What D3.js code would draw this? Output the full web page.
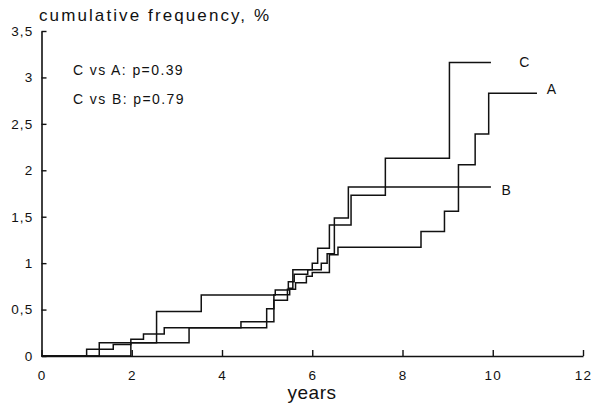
<!DOCTYPE html>
<html>
<head>
<style>
  body {
    margin: 0;
    background-color: #fff;
  }

  text {
    font-family: "Liberation Sans", Arial, sans-serif;
    fill: #111;
  }
</style>
  <script src="https://d3js.org/d3.v7.min.js"></script>
</head>
<body>
<script>
// cumulative frequency curves, three groups

// step points: year where the step happens, level after the step
const yearsA = [0, 1.98, 3.27, 4.99, 5.15, 5.45, 5.63, 5.87, 6.0, 6.38, 6.57, 8.41, 8.93, 9.24, 9.61, 9.91, 10.98];
const freqA  = [0, 0.143, 0.305, 0.51, 0.6, 0.72, 0.79, 0.86, 0.9, 1.09, 1.17, 1.34, 1.56, 2.06, 2.39, 2.83, 2.83];

const yearsB = [0, 1.28, 2.55, 3.54, 5.18, 5.47, 5.6, 5.9, 6.2, 6.33, 6.49, 6.8, 9.96];
const freqB  = [0, 0.143, 0.478, 0.658, 0.71, 0.8, 0.88, 0.93, 1.0, 1.1, 1.485, 1.82, 1.82];

const yearsC = [0, 1.0, 1.59, 1.98, 2.26, 2.72, 4.42, 5.15, 5.5, 5.57, 6.0, 6.12, 6.38, 6.86, 7.62, 9.04, 9.96];
const freqC  = [0, 0.072, 0.125, 0.18, 0.237, 0.305, 0.37, 0.66, 0.73, 0.93, 1.0, 1.16, 1.41, 1.73, 2.13, 3.16, 3.16];

const groupNames = ['A', 'B', 'C'];
const xTicks = [0, 2, 4, 6, 8, 10, 12];
const yTicks = [0, 0.5, 1, 1.5, 2, 2.5, 3, 3.5];
const notes = ['C vs A: p=0.39', 'C vs B: p=0.79'];

const svg = d3.select('body')
  .append('svg')
  .attr('width', 591)
  .attr('height', 406);

const x = d3.scaleLinear().domain([0, 12]).range([41.5, 583]);
const y = d3.scaleLinear().domain([0, 3.5]).range([356, 31]);

// axes
const xAxis = svg.append('g')
  .attr('transform', `translate(0,${y(0)})`)
  .call(d3.axisBottom(x).tickValues(xTicks).tickSizeInner(-6).tickSizeOuter(0).tickPadding(14));

const yAxis = svg.append('g')
  .attr('transform', `translate(${x(0)},0)`)
  .call(d3.axisLeft(y).tickValues(yTicks).tickSizeInner(-5).tickSizeOuter(0).tickPadding(8)
    .tickFormat(d => String(d).replace('.', ',')));

[xAxis, yAxis].forEach(g => {
  g.select('.domain').attr('stroke', '#111').attr('stroke-width', 1.6);
  g.selectAll('.tick line').attr('stroke', '#111').attr('stroke-width', 1.4);
  g.selectAll('.tick text')
    .style('font-size', '13.5px')
    .style('letter-spacing', '1.2px')
    .attr('fill', '#111');
});

// curves
const line = d3.line()
  .x(d => x(d[0]))
  .y(d => y(d[1]))
  .curve(d3.curveStepAfter);

const series = [
  d3.zip(yearsA, freqA),
  d3.zip(yearsB, freqB),
  d3.zip(yearsC, freqC),
];

series.forEach(points => {
  svg.append('path')
    .datum(points)
    .attr('d', line)
    .attr('fill', 'none')
    .attr('stroke', '#111')
    .attr('stroke-width', 1.5);
});

// labels at the curve ends
const labelPos = [
  { year: 11.3, freq: 2.87 },
  { year: 10.3, freq: 1.79 },
  { year: 10.7, freq: 3.17 },
];

groupNames.forEach((name, i) => {
  svg.append('text')
    .attr('x', x(labelPos[i].year))
    .attr('y', y(labelPos[i].freq))
    .attr('dy', '0.35em')
    .attr('text-anchor', 'middle')
    .style('font-size', '14px')
    .text(name);
});

// title and axis title
svg.append('text')
  .attr('x', 39)
  .attr('y', 21)
  .style('font-size', '17px')
  .style('letter-spacing', '2.1px')
  .text('cumulative frequency, %');

svg.append('text')
  .attr('x', 312)
  .attr('y', 399)
  .attr('text-anchor', 'middle')
  .style('font-size', '19px')
  .style('letter-spacing', '0.5px')
  .text('years');

notes.forEach((note, i) => {
  svg.append('text')
    .attr('x', 73)
    .attr('y', 75 + i * 29)
    .style('font-size', '14px')
    .style('letter-spacing', '1.4px')
    .text(note);
});
</script>
</body>
</html>
